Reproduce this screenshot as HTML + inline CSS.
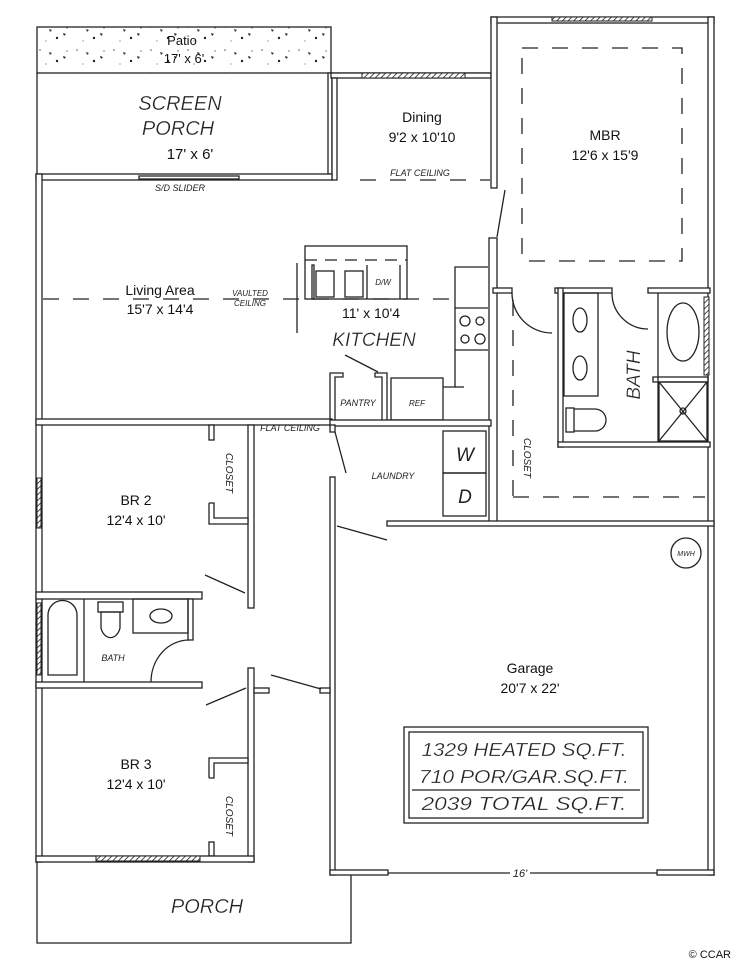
<!DOCTYPE html>
<html><head><meta charset="utf-8"><style>
html,body{margin:0;padding:0;background:#fff;}
svg{display:block;}
.w{fill:#fff;stroke:#222;stroke-width:1.3;}
.l{fill:none;stroke:#222;stroke-width:1.3;}
.d{fill:none;stroke:#222;stroke-width:1.3;stroke-dasharray:16 14;}
.t{font-family:"Liberation Sans",sans-serif;fill:#111;text-anchor:middle;}
.h{font-family:"Liberation Sans",sans-serif;font-style:italic;fill:#222;text-anchor:middle;}
</style></head><body>
<svg width="732" height="960" viewBox="0 0 732 960" xmlns="http://www.w3.org/2000/svg">
<defs>
<pattern id="hat" width="4" height="4" patternUnits="userSpaceOnUse" patternTransform="rotate(45)"><rect width="4" height="4" fill="#fff"/><line x1="0" y1="0" x2="0" y2="4" stroke="#222" stroke-width="1.6"/></pattern>
<pattern id="dots" width="37" height="23" patternUnits="userSpaceOnUse"><circle cx="3" cy="4" r="0.8" fill="#555"/><circle cx="20" cy="15" r="1.2" fill="#222"/><circle cx="30" cy="5" r="0.7" fill="#666"/><circle cx="9" cy="18" r="0.6" fill="#666"/><path d="M26 10 l3 1 l-2 2z" fill="#222"/><path d="M12 6 l3 1 l-2 2z" fill="#333"/></pattern>
</defs>
<!-- Patio -->
<rect x="37" y="27" width="294" height="46" fill="url(#dots)" stroke="#222" stroke-width="1.3"/>
<text class="t" x="182" y="45" font-size="13">Patio</text>
<text class="t" x="184" y="63" font-size="13">17' x 6'</text>
<!-- Screen porch -->
<line class="l" x1="37" y1="73" x2="37" y2="174"/>
<rect class="w" x="328" y="73" width="4" height="101"/>
<line class="l" x1="331" y1="73" x2="491" y2="73"/>
<text class="h" x="180" y="110" font-size="20" font-weight="300" stroke="#fff" stroke-width="0.3">SCREEN</text>
<text class="h" x="178" y="135" font-size="20" stroke="#fff" stroke-width="0.3">PORCH</text>
<text class="t" x="190" y="159" font-size="15">17' x 6'</text>
<!-- Dining -->
<rect class="w" x="331" y="73" width="160" height="5"/>
<rect x="362" y="73" width="103" height="5" fill="url(#hat)" stroke="#222" stroke-width="1"/>
<rect class="w" x="332" y="78" width="5" height="102"/>
<text class="t" x="422" y="122" font-size="14">Dining</text>
<text class="t" x="422" y="142" font-size="14">9'2 x 10'10</text>
<text class="h" x="420" y="176" font-size="9">FLAT CEILING</text>
<line class="d" x1="360" y1="180" x2="490" y2="180" stroke-dasharray="14 10"/>
<!-- MBR -->
<rect class="w" x="491" y="17" width="223" height="6"/>
<rect x="552" y="17" width="100" height="4" fill="url(#hat)" stroke="#222" stroke-width="1"/>
<rect class="w" x="708" y="17" width="6" height="858"/>
<rect class="w" x="491" y="17" width="6" height="171"/>
<line class="l" x1="505" y1="190" x2="497" y2="237"/>
<rect class="w" x="489" y="238" width="8" height="284"/>
<rect class="d" x="522" y="48" width="160" height="213"/>
<text class="t" x="605" y="140" font-size="14">MBR</text>
<text class="t" x="605" y="160" font-size="14">12'6 x 15'9</text>
<!-- Living -->
<rect class="w" x="36" y="174" width="296" height="6"/>
<rect class="w" x="139" y="176" width="100" height="3"/>
<text class="h" x="180" y="191" font-size="9">S/D SLIDER</text>
<rect class="w" x="36" y="174" width="6" height="688"/>
<line class="d" x1="43" y1="299" x2="457" y2="299"/>
<text class="t" x="160" y="295" font-size="14">Living Area</text>
<text class="t" x="160" y="314" font-size="14">15'7 x 14'4</text>
<text class="h" x="250" y="296" font-size="8">VAULTED</text>
<text class="h" x="250" y="306" font-size="8">CEILING</text>
<line class="l" x1="297" y1="263" x2="297" y2="333"/>
<!-- Kitchen island -->
<rect class="l" x="305" y="246" width="102" height="53" fill="#fff"/>
<line class="l" x1="305" y1="260" x2="407" y2="260" stroke-dasharray="12 8"/>
<rect class="l" x="312" y="265" width="2" height="34"/>
<rect class="l" x="316" y="271" width="18" height="26"/>
<rect class="l" x="345" y="271" width="18" height="26"/>
<line class="l" x1="367" y1="265" x2="367" y2="299"/>
<line class="l" x1="400" y1="265" x2="400" y2="299"/>
<text class="h" x="383" y="285" font-size="8">D/W</text>
<text class="t" x="371" y="318" font-size="14">11' x 10'4</text>
<text class="h" x="374" y="346" font-size="19" stroke="#fff" stroke-width="0.3">KITCHEN</text>
<line class="l" x1="345" y1="355" x2="378" y2="372"/>
<!-- counter -->
<polyline class="l" points="488,267 455,267 455,387 443,387"/>
<line class="l" x1="455" y1="308" x2="488" y2="308"/>
<line class="l" x1="455" y1="350" x2="488" y2="350"/>
<line class="l" x1="455" y1="387" x2="464" y2="387"/>
<circle class="l" cx="465" cy="321" r="5"/><circle class="l" cx="480" cy="321" r="4"/>
<circle class="l" cx="465" cy="339" r="4"/><circle class="l" cx="480" cy="339" r="5"/>
<!-- pantry / ref -->
<polyline class="w" points="330,420 330,373 343,373 343,377 335,377 335,420"/>
<polyline class="w" points="387,420 387,373 375,373 375,377 382,377 382,420"/>
<text class="h" x="358" y="406" font-size="9">PANTRY</text>
<rect class="l" x="391" y="378" width="52" height="42"/>
<text class="h" x="417" y="406" font-size="8">REF</text>
<!-- Living bottom wall -->
<rect class="w" x="36" y="419" width="296" height="6"/>
<rect class="w" x="330" y="420" width="161" height="6"/>
<text class="h" x="290" y="431" font-size="9">FLAT CEILING</text>
<!-- MBR bath -->
<rect class="w" x="493" y="288" width="19" height="5"/>
<path class="l" d="M512 293 A40 40 0 0 0 552 333"/>
<rect class="w" x="555" y="288" width="57" height="5"/>
<rect class="w" x="558" y="288" width="5" height="159"/>
<path class="l" d="M612 293 A36 36 0 0 0 648 329"/>
<rect class="w" x="648" y="288" width="62" height="5"/>
<rect class="w" x="558" y="442" width="152" height="5"/>
<rect x="704" y="297" width="5" height="78" fill="url(#hat)" stroke="#222" stroke-width="1"/>
<rect class="l" x="564" y="293" width="34" height="103"/>
<ellipse class="l" cx="580" cy="320" rx="7" ry="12"/>
<ellipse class="l" cx="580" cy="368" rx="7" ry="12"/>
<rect class="l" x="566" y="408" width="8" height="24"/>
<path class="l" d="M574 409 L595 409 A11 11 0 0 1 595 431 L574 431"/>
<line class="l" x1="658" y1="293" x2="658" y2="442"/>
<ellipse class="l" cx="683" cy="332" rx="16" ry="29"/>
<rect class="l" x="653" y="377" width="55" height="5"/>
<rect class="l" x="659" y="382" width="48" height="59"/>
<line class="l" x1="659" y1="382" x2="707" y2="441"/><line class="l" x1="707" y1="382" x2="659" y2="441"/>
<circle class="l" cx="683" cy="411" r="3"/>
<text class="h" x="0" y="0" font-size="19" stroke="#fff" stroke-width="0.3" transform="translate(640,375) rotate(-90)">BATH</text>
<line class="d" x1="513" y1="300" x2="513" y2="497" stroke-dasharray="14 10"/>
<line class="d" x1="513" y1="497" x2="705" y2="497" stroke-dasharray="14 10"/>
<text class="h" x="0" y="0" font-size="10" transform="translate(524,458) rotate(90)">CLOSET</text>
<!-- Laundry -->
<rect class="l" x="443" y="431" width="43" height="42"/>
<rect class="l" x="443" y="473" width="43" height="43"/>
<text class="h" x="465" y="461" font-size="19">W</text>
<text class="h" x="465" y="503" font-size="19">D</text>
<text class="h" x="393" y="479" font-size="9">LAUNDRY</text>
<rect class="w" x="330" y="425" width="5" height="7"/>
<line class="l" x1="335" y1="432" x2="346" y2="473"/>
<!-- Garage -->
<rect class="w" x="387" y="521" width="327" height="5"/>
<rect class="w" x="330" y="477" width="5" height="398"/>
<line class="l" x1="337" y1="526" x2="387" y2="540"/>
<rect class="w" x="330" y="870" width="58" height="5"/>
<rect class="w" x="657" y="870" width="57" height="5"/>
<line class="l" x1="388" y1="873" x2="510" y2="873"/>
<line class="l" x1="530" y1="873" x2="657" y2="873"/>
<text class="h" x="520" y="877" font-size="11">16'</text>
<circle class="l" cx="686" cy="553" r="15"/>
<text class="h" x="686" y="556" font-size="7">MWH</text>
<text class="t" x="530" y="673" font-size="14">Garage</text>
<text class="t" x="530" y="693" font-size="14">20'7 x 22'</text>
<rect class="l" x="404" y="727" width="244" height="96"/>
<rect class="l" x="409" y="732" width="234" height="86"/>
<line class="l" x1="412" y1="790" x2="640" y2="790"/>
<text class="h" x="524" y="756" font-size="18" stroke="#fff" stroke-width="0.3" textLength="205" lengthAdjust="spacingAndGlyphs">1329 HEATED SQ.FT.</text>
<text class="h" x="524" y="783" font-size="18" stroke="#fff" stroke-width="0.3" textLength="210" lengthAdjust="spacingAndGlyphs">710 POR/GAR.SQ.FT.</text>
<text class="h" x="524" y="810" font-size="18" stroke="#fff" stroke-width="0.3" textLength="205" lengthAdjust="spacingAndGlyphs">2039 TOTAL SQ.FT.</text>
<!-- BR2 -->
<rect class="w" x="248" y="425" width="6" height="183"/>
<rect class="w" x="209" y="425" width="5" height="15"/>
<polyline class="w" points="209,503 214,503 214,518 248,518 248,524 209,524 209,503"/>
<text class="h" x="0" y="0" font-size="10" transform="translate(226,473) rotate(90)">CLOSET</text>
<line class="l" x1="205" y1="575" x2="245" y2="593"/>
<text class="t" x="136" y="505" font-size="14">BR 2</text>
<text class="t" x="136" y="525" font-size="14">12'4 x 10'</text>
<rect x="37" y="478" width="4" height="50" fill="url(#hat)" stroke="#222" stroke-width="1"/>
<!-- hall bath -->
<rect class="w" x="36" y="592" width="166" height="7"/>
<rect class="w" x="188" y="599" width="5" height="41"/>
<rect class="w" x="36" y="682" width="166" height="6"/>
<rect x="37" y="603" width="4" height="72" fill="url(#hat)" stroke="#222" stroke-width="1"/>
<path class="l" d="M48 675 L48 615 A14 14 0 0 1 77 615 L77 675 Z"/>
<line class="l" x1="84" y1="599" x2="84" y2="682"/>
<rect class="l" x="98" y="602" width="25" height="10"/>
<path class="l" d="M101 612 L120 612 L120 628 A10 14 0 0 1 101 628 Z"/>
<rect class="l" x="133" y="599" width="55" height="34"/>
<ellipse class="l" cx="161" cy="616" rx="11" ry="7"/>
<text class="h" x="113" y="661" font-size="9">BATH</text>
<path class="l" d="M151 682 A38 42 0 0 1 189 640"/>
<!-- BR3 -->
<rect class="w" x="248" y="668" width="6" height="194"/>
<rect class="w" x="254" y="688" width="15" height="5"/>
<line class="l" x1="206" y1="705" x2="246" y2="688"/>
<rect class="w" x="320" y="688" width="10" height="5"/>
<line class="l" x1="271" y1="675" x2="321" y2="689"/>
<polyline class="w" points="209,778 209,758 248,758 248,763 214,763 214,778 209,778"/>
<rect class="w" x="209" y="842" width="5" height="14"/>
<text class="h" x="0" y="0" font-size="10" transform="translate(226,816) rotate(90)">CLOSET</text>
<text class="t" x="136" y="769" font-size="14">BR 3</text>
<text class="t" x="136" y="789" font-size="14">12'4 x 10'</text>
<rect class="w" x="36" y="856" width="218" height="6"/>
<rect x="96" y="856" width="104" height="5" fill="url(#hat)" stroke="#222" stroke-width="1"/>
<!-- Porch -->
<polyline class="l" points="37,862 37,943 351,943 351,875"/>
<text class="h" x="207" y="913" font-size="20" stroke="#fff" stroke-width="0.3">PORCH</text>
<text x="731" y="958" font-family="Liberation Sans,sans-serif" font-size="11" fill="#111" text-anchor="end">© CCAR</text>
</svg>
</body></html>
